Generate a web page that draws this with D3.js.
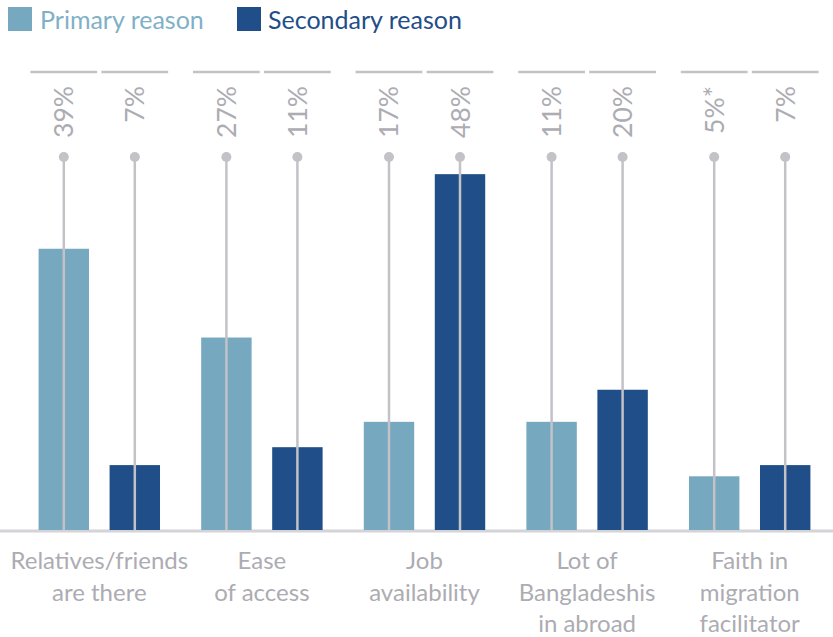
<!DOCTYPE html>
<html><head><meta charset="utf-8">
<script src="https://cdn.jsdelivr.net/npm/d3@7"></script>
<style>body{margin:0;background:#fff}svg{display:block}</style>
</head><body>
<script>
const categories = [["Relatives/friends","are there"],["Ease","of access"],["Job","availability"],["Lot of","Bangladeshis","in abroad"],["Faith in","migration","facilitator"]];
const seriesNames = ["Primary reason","Secondary reason"];
// bar heights (%)
const primaryValues = [37.7, 25.8, 14.5, 14.5, 7.2];
const secondaryValues = [8.7, 11.1, 47.7, 18.8, 8.7];
// printed labels
const primaryLabels = ["39%","27%","17%","11%","5%*"];
const secondaryLabels = ["7%","11%","48%","20%","7%"];
const yMax = 50;

const W = 833, H = 637;
const colors = ["#76a8bf", "#1f4e88"];
const textColors = ["#7fb1c6", "#1f4e88"];
const grey = "#c2c2c7", labelGrey = "#acacb2";
const FONT = "Lato, 'Open Sans', sans-serif";

const svg = d3.select("body").append("svg").attr("width", W).attr("height", H);

const keys = ["p","s"];
const data = categories.map((c,i)=>({cat:i, vals:[primaryValues[i], secondaryValues[i]], labels:[primaryLabels[i], secondaryLabels[i]]}));

const x0 = d3.scaleBand().domain(d3.range(categories.length)).range([18, 831]).padding(0);
const x1 = d3.scaleBand().domain(keys).range([0, x0.bandwidth()]).padding(0.29);
const y = d3.scaleLinear().domain([0, yMax]).range([530, 157]);

// baseline
svg.append("line").attr("x1",0).attr("x2",W).attr("y1",531).attr("y2",531)
  .attr("stroke","#d4d4d8").attr("stroke-width",3);

const g = svg.selectAll("g.grp").data(data).join("g").attr("class","grp")
  .attr("transform", d=>`translate(${x0(d.cat)},0)`);

const items = g.selectAll("g.item").data(d=>keys.map((k,j)=>({k, j, v:d.vals[j], label:d.labels[j]})))
  .join("g").attr("class","item");

// top segments
items.append("line")
  .attr("x1", d=>x1(d.k)+x1.bandwidth()/2 - x1.step()*0.47)
  .attr("x2", d=>x1(d.k)+x1.bandwidth()/2 + x1.step()*0.47)
  .attr("y1",72).attr("y2",72).attr("stroke",grey).attr("stroke-width",2.5);

// bars
items.append("rect")
  .attr("x", d=>x1(d.k)).attr("width", x1.bandwidth())
  .attr("y", d=>y(d.v)).attr("height", d=>y(0)-y(d.v))
  .attr("fill", d=>colors[d.j]);

// stems
items.append("line")
  .attr("x1", d=>x1(d.k)+x1.bandwidth()/2).attr("x2", d=>x1(d.k)+x1.bandwidth()/2)
  .attr("y1", y(yMax)).attr("y2", y(0))
  .attr("stroke", grey).attr("stroke-width",2.5);
items.append("circle")
  .attr("cx", d=>x1(d.k)+x1.bandwidth()/2).attr("cy", y(yMax)).attr("r",5)
  .attr("fill", grey);

// rotated value labels
items.append("text")
  .attr("transform", d=>`translate(${x1(d.k)+x1.bandwidth()/2 + 9.5},86) rotate(-90)`)
  .attr("text-anchor","end")
  .attr("font-family",FONT).attr("font-size",26.5).attr("fill",labelGrey)
  .text(d=>d.label);

// category labels
g.append("text")
  .attr("text-anchor","middle")
  .attr("font-family",FONT).attr("font-size",24).attr("fill",labelGrey)
  .selectAll("tspan").data(d=>categories[d.cat]).join("tspan")
  .attr("x", x0.bandwidth()/2).attr("y",(d,i)=>569+i*31.5).text(d=>d);

// legend
const legX = [8, 237], legTX = [40, 268];
seriesNames.forEach((s,i)=>{
  svg.append("rect").attr("x",legX[i]).attr("y",7).attr("width",24).attr("height",24).attr("fill",colors[i]);
  svg.append("text").attr("x",legTX[i]).attr("y",29).attr("font-family",FONT).attr("font-size",25)
    .attr("fill",textColors[i]).text(s);
});
</script>
</body></html>
